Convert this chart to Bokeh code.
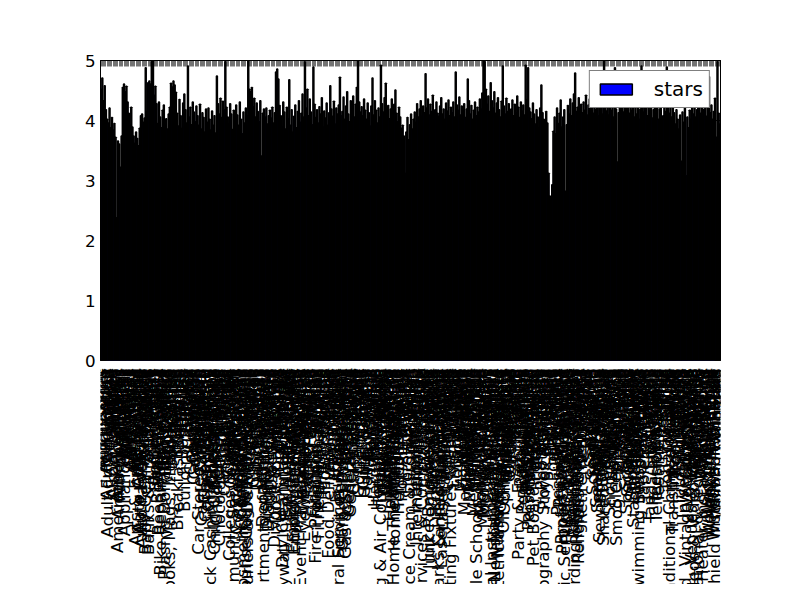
import math
from bokeh.plotting import figure
from bokeh.layouts import column
from bokeh.models import Range1d, FactorRange, LinearAxis, CategoricalAxis, FixedTicker
from bokeh.core.properties import value
from bokeh.embed import file_html
from bokeh.resources import INLINE

categories = [
    "Accessories", "Accountants", "Acupuncture", "Adult", "Adult Education", "Adult Entertainment", "Advertising", "African", "Airlines", "Airport Shuttles",
    "Airports", "Allergists", "American (New)", "American (Traditional)", "Amusement Parks", "Animal Shelters", "Antiques", "Apartments", "Appliances", "Appliances & Repair",
    "Aquariums", "Arcades", "Architects", "Art Classes", "Art Galleries", "Art Schools", "Art Supplies", "Arts & Crafts", "Arts & Entertainment", "Asian Fusion",
    "Auto Detailing", "Auto Glass Services", "Auto Loan Providers", "Auto Parts & Supplies", "Auto Repair", "Automotive", "Baby Gear & Furniture", "Bagels", "Bakeries", "Banks & Credit Unions",
    "Barbeque", "Barbers", "Bars", "Bartenders", "Batting Cages", "Beauty & Spas", "Bed & Breakfast", "Beer, Wine & Spirits", "Bike Rentals", "Bike Repair/Maintenance",
    "Bikes", "Bikram Yoga", "Blood & Plasma Donation Centers", "Boat Dealers", "Boating", "Body Shops", "Books, Mags, Music & Video", "Bookstores", "Boot Camps", "Bowling",
    "Boxing", "Brasseries", "Brazilian", "Breakfast & Brunch", "Breweries", "Bridal", "British", "Bubble Tea", "Buffets", "Building Supplies",
    "Burgers", "Butcher", "Cabinetry", "Cafes", "Cajun/Creole", "Cambodian", "Campgrounds", "Candy Stores", "Car Dealers", "Car Rental",
    "Car Stereo Installation", "Car Wash", "Cardiologists", "Cards & Stationery", "Caribbean", "Carpet Cleaning", "Carpet Installation", "Carpeting", "Caterers", "Champagne Bars",
    "Check Cashing/Pay-day Loans", "Cheese Shops", "Cheesesteaks", "Chicken Wings", "Child Care & Day Care", "Children's Clothing", "Chinese", "Chiropractors", "Chocolatiers & Shops", "Churches",
    "Cinema", "Climbing", "Clothing Rental", "Club Crawl", "Cocktail Bars", "Coffee & Tea", "Colleges & Universities", "Comedy Clubs", "Comic Books", "Community Service/Non-Profit",
    "Computers", "Contractors", "Convenience Stores", "Cooking Classes", "Cooking Schools", "Cosmetic Dentists", "Cosmetic Surgeons", "Cosmetics & Beauty Supply", "Costumes", "Counseling & Mental Health",
    "Country Dance Halls", "Couriers & Delivery Services", "Courthouses", "Creperies", "Cuban", "Cupcakes", "Custom Cakes", "Dance Clubs", "Dance Schools", "Dance Studios",
    "Day Spas", "Delis", "Dentists", "Department Stores", "Departments of Motor Vehicles", "Dermatologists", "Desserts", "Diagnostic Imaging", "Diagnostic Services", "Dim Sum",
    "Diners", "Discount Store", "Dive Bars", "Divorce & Family Law", "Do-It-Yourself Food", "Doctors", "Dog Parks", "Dog Walkers", "Donuts", "Drugstores",
    "Dry Cleaning & Laundry", "Drywall Installation & Repair", "DUI Law", "Ear Nose & Throat", "Education", "Electricians", "Electronics", "Electronics Repair", "Embroidery & Crochet", "Emergency Medicine",
    "Employment Agencies", "Endodontists", "Engraving", "Ethiopian", "Ethnic Food", "Event Planning & Services", "Eyebrow Services", "Eyelash Service", "Eyewear & Opticians", "Fabric Stores",
    "Family Practice", "Farmers Market", "Fashion", "Fast Food", "Fertility", "Filipino", "Financial Services", "Fire Protection Services", "Fireplace Services", "Fish & Chips",
    "Fitness & Instruction", "Flea Markets", "Flight Instruction", "Flooring", "Florists", "Flowers & Gifts", "Fondue", "Food", "Food Delivery Services", "Food Stands",
    "Food Trucks", "Formal Wear", "Framing", "French", "Frozen Yogurt", "Fruits & Veggies", "Funeral Services & Cemeteries", "Furniture Reupholstery", "Furniture Stores", "Game Meat",
    "Garage Door Services", "Gardeners", "Gas & Service Stations", "Gastropubs", "Gay Bars", "General Dentistry", "General Litigation", "German", "Gift Shops", "Glass & Mirrors",
    "Gluten-Free", "Go Karts", "Golf", "Golf Equipment", "Golf Lessons", "Greek", "Grocery", "Guns & Ammo", "Gutter Services", "Gyms",
    "Hair Extensions", "Hair Removal", "Hair Salons", "Hair Stylists", "Halal", "Handyman", "Hardware Stores", "Hats", "Hawaiian", "Health & Medical",
    "Health Markets", "Heating & Air Conditioning/HVAC", "Herbs & Spices", "Hiking", "Hindu Temples", "Hobby Shops", "Home & Garden", "Home Cleaning", "Home Decor", "Home Health Care",
    "Home Inspectors", "Home Services", "Home Theatre Installation", "Home Window Tinting", "Hookah Bars", "Horse Racing", "Horseback Riding", "Hospitals", "Hostels", "Hot Air Balloons",
    "Hot Dogs", "Hot Pot", "Hotels", "Hotels & Travel", "Hungarian", "Ice Cream & Frozen Yogurt", "Indian", "Indonesian", "Insurance", "Interior Design",
    "Internal Medicine", "International Grocery", "Internet Cafes", "Irish", "Irish Pub", "IT Services & Computer Repair", "Italian", "Japanese", "Jazz & Blues", "Jewelry",
    "Jewelry Repair", "Juice Bars & Smoothies", "Junk Removal & Hauling", "Karaoke", "Kids Activities", "Kitchen & Bath", "Knife Sharpening", "Korean", "Kosher", "Landmarks & Historical Buildings",
    "Landscape Architects", "Landscaping", "Laser Eye Surgery/Lasik", "Laser Hair Removal", "Latin American", "Laundromat", "Lawyers", "Leather Goods", "Libraries", "Lighting Fixtures & Equipment",
    "Limos", "Lingerie", "Live/Raw Food", "Local Flavor", "Local Services", "Locksmiths", "Lounges", "Luggage", "Makeup Artists", "Martial Arts",
    "Massage", "Massage Therapy", "Mattresses", "Meat Shops", "Mediterranean", "Medical Centers", "Medical Spas", "Men's Clothing", "Men's Hair Salons", "Mexican",
    "Middle Eastern", "Middle Schools & High Schools", "Mini Golf", "Mobile Phones", "Modern European", "Mongolian", "Mortgage Brokers", "Motorcycle Dealers", "Motorcycle Repair", "Movers",
    "Museums", "Music & DVDs", "Music Venues", "Musical Instruments & Teachers", "Nail Salons", "Naturopathic/Holistic", "Newspapers & Magazines", "Nightlife", "Nurseries & Gardening", "Obstetricians & Gynecologists",
    "Office Cleaning", "Office Equipment", "Officiants", "Oil Change Stations", "Ophthalmologists", "Optometrists", "Orthodontists", "Orthopedists", "Outdoor Gear", "Outlet Stores",
    "Paint & Sip", "Paintball", "Painters", "Pakistani", "Parking", "Parks", "Party & Event Planning", "Party Supplies", "Pawn Shops", "Pediatric Dentists",
    "Pediatricians", "Performing Arts", "Persian/Iranian", "Personal Chefs", "Personal Injury Law", "Personal Shopping", "Peruvian", "Pest Control", "Pet Boarding/Pet Sitting", "Pet Groomers",
    "Pet Services", "Pet Stores", "Pet Training", "Pets", "Pharmacy", "Photographers", "Photography Stores & Services", "Physical Therapy", "Piano Bars", "Pilates",
    "Pizza", "Plumbing", "Podiatrists", "Polish", "Pool Cleaners", "Pool Halls", "Post Offices", "Preschools", "Pressure Washers", "Print Media",
    "Printing Services", "Professional Services", "Property Management", "Psychiatrists", "Public Services & Government", "Public Transportation", "Pubs", "Radio Stations", "Ramen", "Real Estate",
    "Real Estate Agents", "Real Estate Services", "Recording & Rehearsal Studios", "Recreation Centers", "Rehabilitation Center", "Religious Organizations", "Resorts", "Restaurants", "Retirement Homes", "Roofing",
    "Rugs", "RV Parks", "RV Repair", "Salad", "Salvadoran", "Sandwiches", "Scandinavian", "Screen Printing", "Scuba Diving", "Seafood",
    "Seafood Markets", "Security Systems", "Self Storage", "Sewing & Alterations", "Shades & Blinds", "Shanghainese", "Shared Office Spaces", "Shaved Ice", "Shoe Repair", "Shoe Stores",
    "Shopping", "Shopping Centers", "Sign Making", "Skating Rinks", "Ski Resorts", "Skin Care", "Sleep Specialists", "Smog Check Stations", "Smokehouse", "Soul Food",
    "Soup", "Southern", "Spanish", "Speakeasies", "Specialty Food", "Specialty Schools", "Sporting Goods", "Sports Bars", "Sports Clubs", "Sports Medicine",
    "Sports Wear", "Stadiums & Arenas", "Steakhouses", "Street Vendors", "Sushi Bars", "Swimming Lessons/Schools", "Swimming Pools", "Swimwear", "Szechuan", "Tabletop Games",
    "Tacos", "Tai Chi", "Tanning", "Tapas Bars", "Tapas/Small Plates", "Tattoo", "Tax Services", "Taxis", "Tea Rooms", "Teeth Whitening",
    "Television Stations", "Tennis", "Test Preparation", "Tex-Mex", "Thai", "Thrift Stores", "Tiling", "Tires", "Tobacco Shops", "Towing",
    "Toy Stores", "Traditional Chinese Medicine", "Trainers", "Transmission Repair", "Travel Services", "Tree Services", "Trophy Shops", "Tubing", "Turkish", "Tutoring Centers",
    "Ukrainian", "Uniforms", "University Housing", "Urgent Care", "Used, Vintage & Consignment", "Vacation Rentals", "Valet Services", "Vegan", "Vegetarian", "Venues & Event Spaces",
    "Veterinarians", "Videos & Video Game Rental", "Vietnamese", "Vinyl Records", "Vocational & Technical School", "Waffles", "Walking Tours", "Watch Repair", "Water Heater Installation/Repair", "Water Parks",
    "Waxing", "Web Design", "Wedding Planning", "Weight Loss Centers", "Wheel & Rim Repair", "Wholesale Stores", "Wigs", "Windows Installation", "Windshield Installation & Repair", "Wine Bars",
    "Wineries", "Women's Clothing", "Yoga", "Zoos",
]

stars = [
    4.52, 4.71, 4.33, 4.58, 4.18, 4.02, 3.96, 4.21, 3.88, 4.05,
    3.84, 3.95, 3.72, 2.38, 3.66, 3.61, 3.22, 3.74, 4.55, 4.61,
    4.48, 4.57, 4.31, 4.12, 3.93, 4.22, 3.89, 3.74, 3.62, 3.81,
    3.70, 3.58, 3.87, 4.08, 4.11, 3.97, 4.04, 4.88, 4.15, 4.63,
    4.66, 4.61, 4.98, 5.00, 4.42, 4.57, 4.28, 3.95, 4.31, 4.06,
    3.88, 4.17, 4.26, 3.92, 4.03, 3.86, 4.11, 4.22, 4.62, 4.56,
    4.66, 4.59, 4.47, 4.12, 3.91, 4.35, 4.08, 3.87, 4.29, 4.44,
    4.18, 3.96, 4.91, 4.06, 4.22, 3.93, 4.31, 4.14, 3.98, 4.24,
    4.08, 3.92, 4.27, 3.86, 4.13, 4.05, 3.81, 4.19, 3.97, 4.21,
    4.02, 3.84, 4.16, 3.92, 4.08, 3.79, 4.74, 4.28, 4.11, 4.37,
    4.05, 4.32, 4.18, 4.98, 4.22, 4.06, 3.94, 4.28, 4.11, 3.85,
    4.17, 3.73, 4.26, 4.09, 3.92, 4.31, 4.02, 3.78, 4.14, 3.96,
    4.21, 4.08, 4.99, 4.52, 4.48, 4.55, 4.23, 4.37, 4.06, 4.29,
    4.15, 3.98, 4.33, 3.41, 4.12, 4.19, 4.06, 4.21, 3.94, 4.08,
    4.17, 4.04, 4.22, 3.96, 4.13, 4.81, 4.86, 4.69, 4.25, 4.08,
    3.89, 4.31, 4.14, 3.86, 4.22, 4.03, 4.68, 3.92, 4.18, 3.81,
    4.07, 4.26, 3.88, 4.15, 4.33, 3.97, 4.12, 4.44, 4.06, 4.98,
    4.21, 4.52, 4.08, 4.36, 4.14, 3.93, 4.89, 4.27, 4.05, 4.18,
    3.96, 4.23, 4.11, 4.38, 3.89, 4.16, 4.04, 4.29, 3.92, 4.13,
    4.58, 4.19, 4.07, 4.32, 3.94, 4.21, 4.11, 4.26, 4.72, 4.08,
    4.15, 4.39, 4.02, 4.24, 4.48, 4.11, 3.98, 4.33, 4.19, 4.41,
    4.06, 4.27, 4.55, 4.99, 4.31, 4.14, 4.23, 4.08, 4.36, 4.17,
    4.02, 4.29, 4.13, 3.91, 4.24, 4.71, 4.09, 4.33, 4.17, 3.96,
    4.21, 4.06, 4.92, 4.28, 4.14, 4.38, 4.62, 4.11, 4.25, 4.03,
    4.19, 4.36, 4.08, 4.27, 4.51, 4.12, 3.98, 4.22, 4.06, 3.87,
    3.92, 3.74, 3.12, 3.81, 4.05, 3.68, 3.93, 4.11, 3.86, 4.02,
    4.14, 3.97, 4.28, 4.06, 4.19, 4.33, 4.08, 4.24, 4.13, 4.78,
    4.21, 4.36, 4.09, 4.27, 4.15, 4.42, 4.03, 4.18, 4.31, 4.12,
    4.07, 4.24, 4.38, 4.11, 4.19, 4.02, 4.29, 4.16, 4.34, 4.08,
    4.22, 4.13, 4.31, 4.06, 4.81, 4.26, 4.17, 4.39, 4.09, 4.24,
    4.12, 4.28, 4.05, 4.19, 4.69, 4.33, 4.11, 4.25, 4.02, 4.17,
    4.31, 4.08, 4.22, 4.14, 4.36, 4.19, 4.46, 4.99, 4.98, 4.52,
    4.27, 4.41, 4.15, 4.63, 4.33, 4.21, 4.48, 4.12, 4.29, 4.38,
    4.18, 4.06, 4.32, 4.91, 4.24, 4.11, 4.37, 4.15, 4.28, 4.02,
    4.19, 4.34, 4.08, 4.27, 4.13, 4.41, 4.22, 4.05, 4.31, 4.16,
    4.26, 4.09, 4.92, 4.35, 4.88, 4.21, 4.14, 4.03, 4.29, 4.11,
    3.94, 4.18, 4.06, 3.87, 4.21, 4.59, 4.13, 4.02, 3.91, 4.15,
    3.96, 3.12, 2.74, 2.71, 2.93, 3.82, 4.06, 3.78, 4.21, 3.95,
    4.12, 4.34, 3.89, 4.06, 4.18, 2.82, 3.93, 4.25, 4.11, 4.36,
    4.08, 4.29, 4.44, 4.79, 4.15, 4.22, 4.38, 4.06, 4.27, 4.13,
    4.31, 4.17, 4.42, 4.09, 4.26, 4.36, 4.81, 4.21, 4.12, 4.33,
    4.18, 4.27, 4.08, 4.39, 4.59, 4.23, 4.11, 4.99, 4.32, 4.16,
    4.24, 4.09, 4.35, 4.17, 4.28, 4.06, 4.88, 4.19, 3.31, 4.13,
    4.26, 4.08, 4.33, 4.14, 4.68, 4.21, 4.05, 4.37, 4.12, 4.28,
    4.17, 4.32, 4.06, 4.24, 4.11, 4.38, 4.02, 4.19, 4.91, 4.27,
    4.14, 4.33, 4.58, 4.08, 4.22, 4.16, 4.29, 4.04, 4.18, 4.35,
    4.11, 4.26, 4.02, 4.19, 4.33, 1.88, 4.08, 4.24, 4.15, 4.89,
    4.21, 4.12, 4.58, 4.06, 4.27, 4.13, 3.94, 4.18, 4.02, 3.86,
    4.09, 3.32, 4.14, 3.97, 4.21, 3.08, 4.06, 3.88, 4.17, 4.02,
    4.23, 4.11, 4.29, 4.06, 4.18, 4.34, 4.61, 4.12, 4.25, 4.08,
    4.19, 4.31, 4.07, 4.22, 4.73, 4.13, 4.26, 4.02, 4.15, 4.37,
    3.72, 4.98, 4.12, 3.94,
]

y_ticks = [0, 1, 2, 3, 4, 5]
series_name = "stars"

FONT = "DejaVu Sans"

x_range = FactorRange(factors=categories, range_padding=0)

# ---- main bar panel ----
p = figure(
    width=784, height=368,
    x_range=x_range,
    y_range=Range1d(0, 5),
    output_backend="svg", toolbar_location=None,
    x_axis_location=None,
    min_border_left=100, min_border_right=64,
    min_border_top=60, min_border_bottom=8,
)
p.background_fill_color = "white"
p.border_fill_color = "white"
p.outline_line_color = "black"
p.outline_line_width = 1
p.grid.visible = False

bars = p.vbar(x=categories, top=stars, width=0.8,
              fill_color="#0000ff", line_color="black", line_width=1.5,
              legend_label=series_name)

yax = p.yaxis[0]
yax.ticker = FixedTicker(ticks=y_ticks)
yax.major_tick_in = 6
yax.major_tick_out = 0
yax.minor_tick_in = 0
yax.minor_tick_out = 0
yax.major_label_standoff = 5
yax.major_label_text_font = FONT
yax.major_label_text_font_size = "16.7px"
yax.major_label_text_color = "black"
yax.axis_line_color = "black"
yax.major_tick_line_color = "black"

rax = LinearAxis(ticker=FixedTicker(ticks=y_ticks), major_tick_in=6, major_tick_out=0,
                 minor_tick_in=0, minor_tick_out=0, major_label_text_color=None,
                 axis_line_color="black")
p.add_layout(rax, "right")

xt = CategoricalAxis(major_tick_in=6, major_tick_out=0, major_label_text_color=None,
                     axis_line_color="black", major_tick_line_color="black",
                     major_tick_line_alpha=0.55)
p.add_layout(xt, "above")

leg = p.legend[0]
leg.location = "top_right"
leg.margin = 10
leg.padding = 6
leg.spacing = 0
leg.glyph_width = 40
leg.glyph_height = 14
leg.label_height = 14
leg.label_standoff = 18
leg.label_text_font = FONT
leg.label_text_font_size = "20px"
leg.label_text_color = "black"
leg.border_line_color = "black"
leg.border_line_width = 1
leg.background_fill_color = "white"
leg.background_fill_alpha = 1.0

# ---- category tick labels, rotated, hanging below the bars (cut at the bottom like the reference) ----
q = figure(
    width=784, height=216,
    x_range=x_range,
    y_range=Range1d(0, 1),
    output_backend="svg", toolbar_location=None,
    x_axis_location=None, y_axis_location=None,
    min_border_left=100, min_border_right=64,
    min_border_top=0, min_border_bottom=0,
)
q.background_fill_color = "white"
q.border_fill_color = "white"
q.outline_line_color = None
q.grid.visible = False
q.text(x=categories, y=1, text=categories, angle=math.pi / 2,
       y_offset=0, text_align="right", text_baseline="middle",
       text_font=value(FONT), text_font_size="16.7px", text_color="black")

layout = column(p, q, spacing=0)

open("out.html", "w").write(file_html(layout, INLINE))
